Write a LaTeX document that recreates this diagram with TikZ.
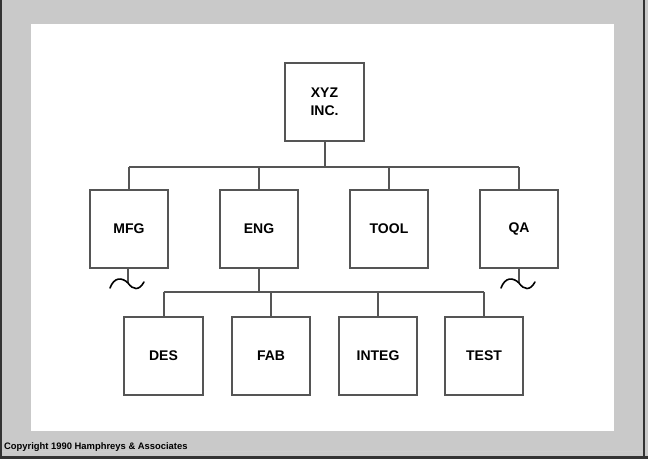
\documentclass[tikz,border=0pt]{standalone}
\usepackage{fontspec}
\setmainfont{Liberation Sans}
\definecolor{bggray}{HTML}{C9C9C9}
\definecolor{edgegray}{HTML}{555555}
\definecolor{framedark}{HTML}{333333}
\begin{document}
\begin{tikzpicture}[x=1pt,y=-1pt,
  box/.style={draw=edgegray,line width=2pt,fill=white,minimum width=78pt,minimum height=78pt,inner sep=0pt,anchor=north west,align=center,font=\fontsize{14}{18}\selectfont\bfseries},
  wire/.style={draw=edgegray,line width=2pt},
  squig/.style={draw=black,line width=1.6pt,line cap=round}]
\useasboundingbox (0,0) rectangle (648,459);
\fill[bggray] (0,0) rectangle (648,459);
\fill[white] (31,24) rectangle (614,431);
\draw[framedark,line width=2pt] (1,0) -- (1,459);
\draw[framedark,line width=2pt] (644,0) -- (644,459);
\draw[framedark,line width=3pt] (0,457.5) -- (648,457.5);
\draw[gray!40,line width=0.6pt] (2,451) -- (643,451);
% nodes
\node[box,minimum width=79pt] (xyz) at (284,62) {XYZ\\INC.};
\node[box] (mfg) at (89,189) {MFG};
\node[box] (eng) at (219,189) {ENG};
\node[box] (tool) at (349,189) {TOOL};
\node[box] (qa) at (479,189) {QA};
\node[box,minimum width=79pt] (des) at (123,316) {DES};
\node[box] (fab) at (231,316) {FAB};
\node[box] (integ) at (338,316) {INTEG};
\node[box] (test) at (444,316) {TEST};
\coordinate (bus1) at (0,167);
\coordinate (bus2) at (0,292);
% top bus
\draw[wire] (xyz.south) -- (xyz.south |- bus1);
\draw[wire] (mfg.north |- bus1) -- (qa.north |- bus1);
\foreach \n in {mfg,eng,tool,qa}{\draw[wire] (\n.north |- bus1) -- (\n.north);}
% bottom bus
\draw[wire] (eng.south) -- (eng.south |- bus2);
\draw[wire] (des.north |- bus2) -- (test.north |- bus2);
\foreach \n in {des,fab,integ,test}{\draw[wire] (\n.north |- bus2) -- (\n.north);}
% squiggles
\coordinate (m1) at ([shift={(-1,14)}]mfg.south);
\coordinate (q1) at ([shift={(0,14)}]qa.south);
\draw[wire] (mfg.south) -- ([shift={(-1,0)}]mfg.south) -- (m1);
\draw[wire] (qa.south) -- (q1);
\foreach \c in {m1,q1}{
\draw[squig] ([shift={(-18,5)}]\c) .. controls ([shift={(-14,-6)}]\c) and ([shift={(-6,-6)}]\c) .. (\c)
  .. controls ([shift={(5,7)}]\c) and ([shift={(11,8)}]\c) .. ([shift={(16,-1)}]\c);
}
\node[anchor=base west,inner sep=0pt,font=\fontsize{9.4}{10}\selectfont\bfseries] (copy) at (4,449.5) {Copyright 1990 Hamphreys \& Associates};
\end{tikzpicture}
\end{document}
